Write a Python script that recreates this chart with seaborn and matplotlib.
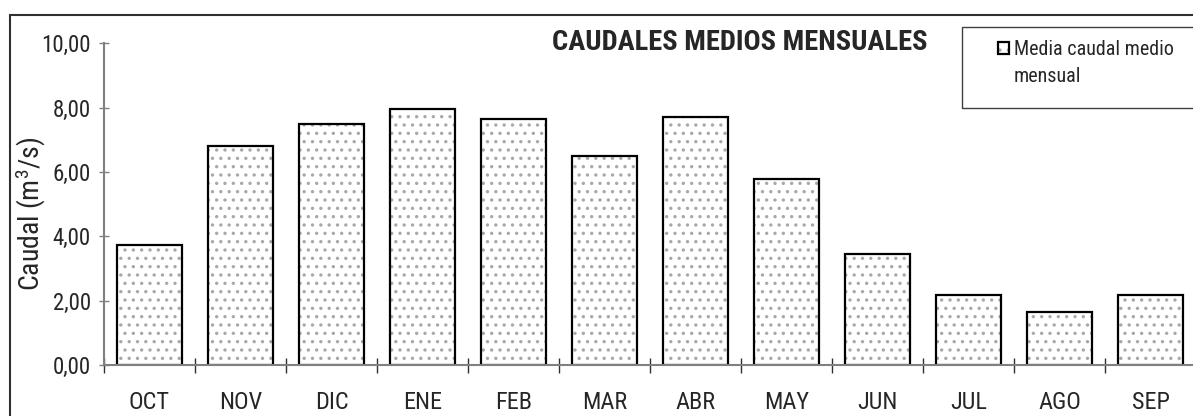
import matplotlib
matplotlib.use('Agg')
import matplotlib.pyplot as plt
import seaborn as sns
import pandas as pd
from matplotlib import font_manager
from matplotlib.patches import Rectangle, Patch
from matplotlib.ticker import FuncFormatter, FixedLocator

# ---- data ----
months = ['OCT', 'NOV', 'DIC', 'ENE', 'FEB', 'MAR', 'ABR', 'MAY', 'JUN', 'JUL', 'AGO', 'SEP']
caudal = [3.74, 6.81, 7.48, 7.95, 7.65, 6.51, 7.71, 5.78, 3.45, 2.18, 1.64, 2.18]
y_ticks = [0, 2, 4, 6, 8, 10]
title_text = 'CAUDALES MEDIOS MENSUALES'
legend_lines = ['Media caudal medio', 'mensual']
ylabel_text = 'Caudal (m$^{3}$/s)'

sns.set_style('white')
names = {f.name for f in font_manager.fontManager.ttflist}
fam = 'Liberation Sans'
for cand in ['Liberation Sans Narrow', 'Arimo Narrow', 'Roboto Condensed', 'Archivo Narrow',
             'PT Sans Narrow', 'Open Sans Condensed']:
    if cand in names:
        fam = cand
        break
plt.rcParams['font.family'] = [fam, 'DejaVu Sans']
plt.rcParams['mathtext.default'] = 'regular'
plt.rcParams['hatch.linewidth'] = 1.2

W, H = 1193, 416
fig = plt.figure(figsize=(W / 100, H / 100), dpi=100)
ax = fig.add_axes([104 / W, 1 - 365 / H, 1092 / W, (365 - 43.3) / H])

df = pd.DataFrame({'mes': months, 'caudal': caudal})

n0 = len(ax.patches)
sns.barplot(data=df, x='mes', y='caudal', ax=ax, width=0.714, color='white',
            edgecolor='#a8a8a8', linewidth=0, hatch='..', errorbar=None)
n1 = len(ax.patches)
for p in ax.patches[n0:n1]:
    p.set_facecolor('white')
    p.set_edgecolor('#a8a8a8')
    p.set_linewidth(0)
    p.set_hatch('..')
sns.barplot(data=df, x='mes', y='caudal', ax=ax, width=0.714, color='black',
            fill=False, linewidth=1.6, errorbar=None)
n2 = len(ax.patches)
for p in ax.patches[n1:n2]:
    p.set_facecolor('none')
    p.set_edgecolor('black')
    p.set_linewidth(1.6)
    p.set_hatch(None)

ax.set_ylim(0, 10)
ax.set_xlim(-0.5, len(months) - 0.5)
ax.yaxis.set_major_locator(FixedLocator(y_ticks))
ax.yaxis.set_major_formatter(FuncFormatter(lambda v, _: f'{v:.2f}'.replace('.', ',')))
ax.set_xticks(range(len(months)))
ax.set_xticklabels(months)
ax.set_xticks([i - 0.5 for i in range(len(months) + 1)], minor=True)

axis_col = '#808080'
ax.tick_params(axis='y', which='major', direction='inout', length=7.2, width=1,
               color=axis_col, labelsize=16.5, pad=6, left=True)
ax.tick_params(axis='x', which='major', length=0, labelsize=17.5, pad=19)
ax.tick_params(axis='x', which='minor', direction='inout', length=10.8, width=1,
               color='#303030', bottom=True)
for s in ['top', 'right']:
    ax.spines[s].set_visible(False)
for s in ['left', 'bottom']:
    ax.spines[s].set_color(axis_col)
    ax.spines[s].set_linewidth(1.5)

ax.set_xlabel('')
ax.set_ylabel(ylabel_text, fontsize=20)
ax.yaxis.set_label_coords(-0.051, 0.47)

fig.text(740 / W, 1 - 43 / H, title_text, ha='center', va='center',
         fontsize=20.5, fontweight='bold')

# legend frame (decoration) and legend entries
fig.patches.append(Rectangle((962 / W, 1 - 108 / H), 0.5, (108 - 27) / H,
                             transform=fig.transFigure, fill=False,
                             edgecolor='#404040', linewidth=1.0))
handles = [(ax.patches[n0], ax.patches[n1]), Patch(facecolor='none', edgecolor='none')]
leg = fig.legend(handles, legend_lines, loc='upper left',
                 bbox_to_anchor=(998 / W, 1 - 40 / H),
                 bbox_transform=fig.transFigure, borderaxespad=0,
                 fontsize=14.5, frameon=False,
                 handlelength=0.55, handleheight=0.55, handletextpad=0.25,
                 borderpad=0, labelspacing=0.4)

fig.patches.append(Rectangle((10 / W, -0.5), 2.0, 0.5 + (1 - 15 / H),
                             transform=fig.transFigure, fill=False,
                             edgecolor='#303030', linewidth=1.5))

fig.savefig('out.png', dpi=100)
